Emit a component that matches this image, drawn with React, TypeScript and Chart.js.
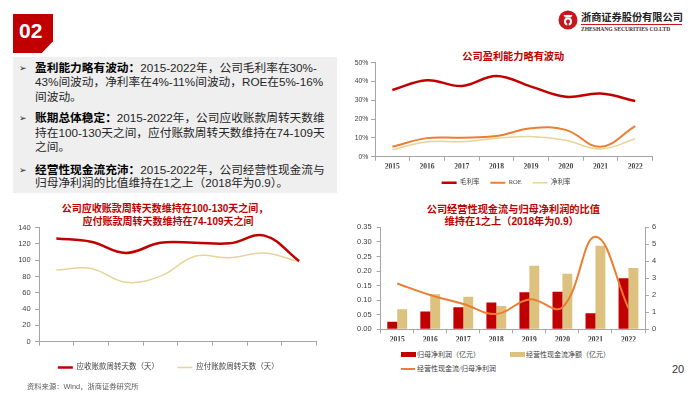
import React, { useEffect, useRef } from "react";
import { Chart, registerables } from "chart.js";

Chart.register(...registerables);

// ---------- data ----------
const years = ["2015", "2016", "2017", "2018", "2019", "2020", "2021", "2022"];

// 公司盈利能力略有波动 (%)
const grossMargin = [35.5, 40.7, 37.6, 42.9, 37.3, 31.9, 33.6, 29.6];
const roe = [5.3, 9.9, 10.1, 11.0, 15.1, 14.3, 5.3, 16.3];
const netMargin = [3.7, 8.0, 8.0, 9.8, 10.7, 8.8, 4.1, 9.4];
const pctTicks = [0, 10, 20, 30, 40, 50];

// 周转天数
const arDays = [126.8, 122.7, 109.0, 121.5, 121.5, 120.8, 130.3, 99.0];
const apDays = [88.0, 90.0, 73.0, 80.5, 105.0, 103.0, 109.0, 98.0];

// 经营性现金流 vs 归母净利润
const netProfit = [0.026, 0.061, 0.076, 0.092, 0.127, 0.129, 0.055, 0.175];
const opCashFlow = [0.069, 0.12, 0.112, 0.08, 0.218, 0.191, 0.287, 0.21];
const cashRatio = [2.69, 2.02, 1.49, 0.9, 1.76, 1.29, 5.45, 1.24];

// ---------- styles ----------
const RED = "#c00000";
const ORANGE = "#ed7d31";
const TAN_LINE = "#e6d49a";
const TAN_BAR = "#dcc27e";
const AXIS = "#a6a6a6";
const TICK = "#404040";
const SERIF = "'Liberation Serif', 'Noto Sans CJK SC', serif";
const SANS = "'Liberation Sans', 'Noto Sans CJK SC', sans-serif";
const CJK = "'Liberation Sans', 'Noto Sans CJK SC', sans-serif";

Chart.defaults.font.family = SANS;

// moves a bottom legend sideways after layout
const shiftLegend = {
  id: "shiftLegend",
  afterLayout(chart: any, _args: any, opts: any) {
    const l = chart.legend;
    if (!l || !opts || !opts.dx) return;
    l.left += opts.dx;
    l.right += opts.dx;
  },
};

function xAxis(height: number) {
  return {
    type: "category" as const,
    offset: true,
    grid: {
      display: true,
      offset: true,
      drawOnChartArea: false,
      drawTicks: true,
      tickLength: 4,
      color: AXIS,
      lineWidth: 1,
    },
    border: { display: true, color: AXIS, width: 1 },
    ticks: {
      color: TICK,
      font: { family: SERIF, size: 7.5, weight: "bold" as const },
      padding: 2,
      maxRotation: 0,
      minRotation: 0,
      autoSkip: false,
    },
    afterFit: (s: any) => {
      s.height = height;
    },
  };
}

function yAxis(
  width: number,
  min: number,
  max: number,
  step: number,
  fmt: (v: number) => string,
  pad: number,
  size: number,
  position: "left" | "right" = "left"
) {
  return {
    position,
    min,
    max,
    grid: {
      display: true,
      drawOnChartArea: false,
      drawTicks: true,
      tickLength: 4,
      color: AXIS,
    },
    border: { display: true, color: AXIS, width: 1 },
    ticks: {
      stepSize: step,
      color: TICK,
      padding: pad,
      font: { family: SANS, size },
      callback: (v: any) => fmt(Number(v)),
    },
    afterFit: (s: any) => {
      s.width = width;
    },
  };
}

function ChartCanvas(props: {
  left: number;
  top: number;
  width: number;
  height: number;
  make: () => any;
}) {
  const ref = useRef<HTMLCanvasElement>(null);
  useEffect(() => {
    const c = new Chart(ref.current as HTMLCanvasElement, props.make());
    return () => c.destroy();
  }, []);
  return (
    <canvas
      ref={ref}
      width={props.width}
      height={props.height}
      style={{
        position: "absolute",
        left: props.left,
        top: props.top,
        width: props.width,
        height: props.height,
      }}
    />
  );
}

const lineDs = (label: string, data: number[], color: string, w: number, extra: any = {}) => ({
  type: "line" as const,
  label,
  data,
  borderColor: color,
  backgroundColor: color,
  borderWidth: w,
  pointRadius: 0,
  pointHoverRadius: 0,
  tension: 0.4,
  fill: false,
  ...extra,
});

function makeProfit() {
  return {
    type: "line",
    data: {
      labels: years,
      datasets: [
        lineDs("毛利率", grossMargin, RED, 2.5),
        lineDs("ROE", roe, ORANGE, 2),
        lineDs("净利率", netMargin, TAN_LINE, 1.5),
      ],
    },
    plugins: [shiftLegend],
    options: {
      animation: false,
      responsive: false,
      layout: { padding: { top: 12.7, right: 12.5, bottom: 14, left: 0 } },
      plugins: {
        tooltip: { enabled: false },
        shiftLegend: { dx: 12.25 },
        legend: {
          position: "bottom",
          labels: {
            usePointStyle: true,
            pointStyle: "line",
            pointStyleWidth: 15,
            boxHeight: 6.5,
            padding: 11,
            color: TICK,
            font: { family: SERIF, size: 6.5 },
          },
        },
      },
      scales: {
        x: xAxis(11.75),
        y: yAxis(40, pctTicks[0], pctTicks[pctTicks.length - 1], 10, (v) => v + "%", 2.7, 6.8),
      },
    },
  };
}

function makeDays() {
  return {
    type: "line",
    data: {
      labels: years,
      datasets: [
        lineDs("应收账款周转天数（天）", arDays, RED, 2.5),
        lineDs("应付账款周转天数（天）", apDays, TAN_LINE, 1.5),
      ],
    },
    plugins: [shiftLegend],
    options: {
      animation: false,
      responsive: false,
      layout: { padding: { top: 12.7, right: 13.5, bottom: 13.75, left: 0 } },
      plugins: {
        tooltip: { enabled: false },
        shiftLegend: { dx: 10 },
        legend: {
          position: "bottom",
          labels: {
            usePointStyle: true,
            pointStyle: "line",
            pointStyleWidth: 15,
            boxHeight: 7.5,
            padding: 18.3,
            color: TICK,
            font: { family: SERIF, size: 7.5 },
          },
        },
      },
      scales: {
        x: xAxis(3.75),
        y: yAxis(39, 0, 140, 20, (v) => String(v), 4.3, 7.5),
      },
    },
  };
}

function makeCash() {
  return {
    type: "bar",
    data: {
      labels: years,
      datasets: [
        lineDs("经营性现金流/归母净利润", cashRatio, ORANGE, 2, { yAxisID: "y1", order: 0 }),
        {
          type: "bar" as const,
          label: "归母净利润（亿元）",
          data: netProfit,
          backgroundColor: RED,
          yAxisID: "y",
          order: 1,
          categoryPercentage: 0.6,
          barPercentage: 1,
        },
        {
          type: "bar" as const,
          label: "经营性现金流净额（亿元）",
          data: opCashFlow,
          backgroundColor: TAN_BAR,
          yAxisID: "y",
          order: 2,
          categoryPercentage: 0.6,
          barPercentage: 1,
        },
      ],
    },
    options: {
      animation: false,
      responsive: false,
      layout: { padding: { top: 12.3, right: 10, bottom: 3.7, left: 0 } },
      plugins: {
        tooltip: { enabled: false },
        legend: { display: false },
      },
      scales: {
        x: xAxis(12),
        y: yAxis(40.7, 0, 0.35, 0.05, (v) => v.toFixed(2), 5, 7.5, "left"),
        y1: yAxis(25, 0, 6, 1, (v) => String(v), 3, 7.5, "right"),
      },
    },
  };
}

// ---------- text helpers ----------
function Txt(props: {
  x: number;
  cy: number;
  size: number;
  color?: string;
  bold?: boolean;
  family?: string;
  children: any;
  center?: boolean;
}) {
  const h = 20;
  const w = 400;
  return (
    <div
      style={{
        position: "absolute",
        left: props.center ? props.x - w / 2 : props.x,
        width: props.center ? w : undefined,
        textAlign: props.center ? "center" : "left",
        top: props.cy - h / 2,
        height: h,
        lineHeight: h + "px",
        fontSize: props.size,
        fontWeight: props.bold ? "bold" : "normal",
        color: props.color || "#262626",
        fontFamily: props.family || CJK,
        whiteSpace: "nowrap",
      }}
    >
      {props.children}
    </div>
  );
}

const bodyLines: { cy: number; bullet?: boolean; head?: string; text: string }[] = [
  { cy: 68.3, bullet: true, head: "盈利能力略有波动：", text: "2015-2022年，公司毛利率在30%-" },
  { cy: 82.3, text: "43%间波动，净利率在4%-11%间波动，ROE在5%-16%" },
  { cy: 96.7, text: "间波动。" },
  { cy: 118.3, bullet: true, head: "账期总体稳定：", text: "2015-2022年，公司应收账款周转天数维" },
  { cy: 132.6, text: "持在100-130天之间，应付账款周转天数维持在74-109天" },
  { cy: 146.7, text: "之间。" },
  { cy: 169.6, bullet: true, head: "经营性现金流充沛：", text: "2015-2022年，公司经营性现金流与" },
  { cy: 183.4, text: "归母净利润的比值维持在1之上（2018年为0.9）。" },
];

export default function App() {
  return (
    <div
      style={{
        position: "absolute",
        left: 0,
        top: 0,
        width: 700,
        height: 394,
        overflow: "hidden",
        background: "#ffffff",
      }}
    >
      {/* section badge */}
      <div
        style={{
          position: "absolute",
          left: 13,
          top: 14,
          width: 40,
          height: 39,
          background: "#c00000",
          clipPath: "polygon(0 0, 100% 0, 100% 70%, 72% 100%, 0 100%)",
        }}
      />
      <Txt x={19} cy={31} size={21} bold color="#ffffff" family={SANS}>
        02
      </Txt>

      {/* text box */}
      <div
        style={{
          position: "absolute",
          left: 13,
          top: 57,
          width: 324,
          height: 136,
          background: "#efefef",
        }}
      />
      {bodyLines.map((l, i) => (
        <React.Fragment key={i}>
          {l.bullet ? (
            <Txt x={19} cy={l.cy} size={9} color="#262626" family="'DejaVu Sans', sans-serif">
              ➢
            </Txt>
          ) : null}
          <Txt x={35} cy={l.cy} size={11.7} color="#262626">
            {l.head ? <span style={{ fontWeight: "bold", color: "#000" }}>{l.head}</span> : null}
            {l.text}
          </Txt>
        </React.Fragment>
      ))}

      {/* logo */}
      <svg
        width={20}
        height={20}
        viewBox="0 0 20 20"
        style={{ position: "absolute", left: 558, top: 10 }}
      >
        <circle cx={10} cy={10} r={9.5} fill="#c8161d" />
        <path d="M5.5 5 L14.5 5 L13 7.5 L7 7.5 Z" fill="#ffffff" />
        <circle cx={10} cy={11.5} r={4} fill="#ffffff" />
        <circle cx={10} cy={11.5} r={2} fill="#c8161d" />
        <rect x={9.3} y={13} width={1.4} height={3.5} fill="#c8161d" />
      </svg>
      <Txt x={581} cy={16.5} size={10.2} bold color="#222222" family="'Noto Sans CJK SC', sans-serif">
        浙商证券股份有限公司
      </Txt>
      <div
        style={{
          position: "absolute",
          left: 581,
          top: 24,
          width: 101,
          height: 1,
          background: "#c8161d",
        }}
      />
      <Txt x={581} cy={28.8} size={5.6} bold color="#333333" family={SERIF}>
        ZHESHANG SECURITIES CO.LTD
      </Txt>

      {/* chart titles */}
      <Txt x={513.3} cy={57.3} size={10.2} bold color={RED} center>
        公司盈利能力略有波动
      </Txt>
      <Txt x={165} cy={209} size={10} bold color={RED} center>
        公司应收账款周转天数维持在100-130天之间，
      </Txt>
      <Txt x={168} cy={221.7} size={10} bold color={RED} center>
        应付账款周转天数维持在74-109天之间
      </Txt>
      <Txt x={513.3} cy={210} size={10.2} bold color={RED} center>
        公司经营性现金流与归母净利润的比值
      </Txt>
      <Txt x={511.7} cy={221.7} size={10.2} bold color={RED} center>
        维持在1之上（2018年为0.9）
      </Txt>

      {/* charts */}
      <ChartCanvas left={335} top={50} width={330} height={160} make={makeProfit} />
      <ChartCanvas left={0} top={215} width={330} height={180} make={makeDays} />
      <ChartCanvas left={340} top={215} width={340} height={130} make={makeCash} />

      {/* legend for cash chart */}
      <div style={{ position: "absolute", left: 401, top: 352, width: 15, height: 5, background: RED }} />
      <Txt x={417} cy={354.6} size={7} color={TICK} family={SERIF}>
        归母净利润（亿元）
      </Txt>
      <div style={{ position: "absolute", left: 510, top: 352, width: 15, height: 5, background: TAN_BAR }} />
      <Txt x={526} cy={354.6} size={7} color={TICK} family={SERIF}>
        经营性现金流净额（亿元）
      </Txt>
      <div style={{ position: "absolute", left: 401, top: 367.7, width: 14, height: 2, background: ORANGE }} />
      <Txt x={417} cy={368.7} size={7} color={TICK} family={SERIF}>
        经营性现金流/归母净利润
      </Txt>

      {/* source & page */}
      <Txt x={27} cy={386.7} size={7.3} color="#595959">
        资料来源：Wind，浙商证券研究所
      </Txt>
      <Txt x={672} cy={368.5} size={11} color="#333333" family={SANS}>
        20
      </Txt>
    </div>
  );
}
